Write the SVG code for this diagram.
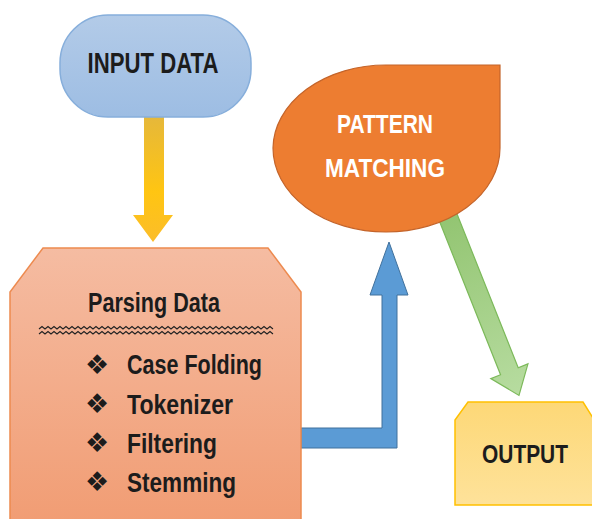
<svg xmlns="http://www.w3.org/2000/svg" width="592" height="519" viewBox="0 0 592 519">
<defs>
<linearGradient id="gBlue" x1="0" y1="0" x2="0" y2="1"><stop offset="0" stop-color="#b3cbe8"/><stop offset="1" stop-color="#9dbde3"/></linearGradient>
<linearGradient id="gYel" x1="0" y1="0" x2="0" y2="1"><stop offset="0" stop-color="#e6b83a"/><stop offset="0.6" stop-color="#ffc512"/><stop offset="1" stop-color="#fbbd2a"/></linearGradient>
<linearGradient id="gSal" x1="0" y1="0" x2="0" y2="1"><stop offset="0" stop-color="#f5bca2"/><stop offset="1" stop-color="#f19d74"/></linearGradient>
<linearGradient id="gGrn" x1="0" y1="0" x2="1" y2="0"><stop offset="0" stop-color="#93c572"/><stop offset="1" stop-color="#b7dca0"/></linearGradient>
<linearGradient id="gOut" x1="0" y1="0" x2="0" y2="1"><stop offset="0" stop-color="#fdd877"/><stop offset="1" stop-color="#fee29a"/></linearGradient>
<path id="wave" d="M0,0 l3,-2.5 l3,2.5 l3,-2.5 l3,2.5 l3,-2.5 l3,2.5 l3,-2.5 l3,2.5 l3,-2.5 l3,2.5 l3,-2.5 l3,2.5 l3,-2.5 l3,2.5 l3,-2.5 l3,2.5 l3,-2.5 l3,2.5 l3,-2.5 l3,2.5 l3,-2.5 l3,2.5 l3,-2.5 l3,2.5 l3,-2.5 l3,2.5 l3,-2.5 l3,2.5 l3,-2.5 l3,2.5 l3,-2.5 l3,2.5 l3,-2.5 l3,2.5 l3,-2.5 l3,2.5 l3,-2.5 l3,2.5 l3,-2.5 l3,2.5 l3,-2.5 l3,2.5 l3,-2.5 l3,2.5 l3,-2.5 l3,2.5 l3,-2.5 l3,2.5 l3,-2.5 l3,2.5 l3,-2.5 l3,2.5 l3,-2.5 l3,2.5 l3,-2.5 l3,2.5 l3,-2.5 l3,2.5 l3,-2.5 l3,2.5 l3,-2.5 l3,2.5 l3,-2.5 l3,2.5 l3,-2.5 l3,2.5 l3,-2.5 l3,2.5 l3,-2.5 l3,2.5 l3,-2.5 l3,2.5 l3,-2.5 l3,2.5 l3,-2.5 l3,2.5 l3,-2.5 l3,2.5" fill="none" stroke="#222" stroke-width="1.1"/>
</defs>
<style>
.t{font-family:"Liberation Sans",Arial,sans-serif;font-weight:bold;fill:#1c1c1c}
.w{font-family:"Liberation Sans",Arial,sans-serif;font-weight:bold;fill:#ffffff}
.b{font-family:"DejaVu Sans",sans-serif;fill:#1c1c1c}
</style>
<g id="connectors">
<path d="M144,117 L164,117 L164,215 L173,215 L153,242 L133,215 L144,215 Z" fill="url(#gYel)"/>
<path d="M301,428 L382,428 L382,295 L370,295 L389,242 L408,295 L397,295 L397,448 L301,448 Z" fill="#5b9bd5" stroke="#41719c" stroke-width="1"/>
<g transform="translate(448,217) rotate(68.3)">
<path d="M0,-9.5 L166,-9.5 L166,-20 L192,0 L166,20 L166,9.5 L0,9.5 Z" fill="url(#gGrn)" stroke="#7cb95a" stroke-width="1.2"/>
</g>
</g>
<g id="input">
<rect x="60" y="15" width="191" height="102" rx="48" ry="48" fill="url(#gBlue)" stroke="#86aedb" stroke-width="1.5"/>
<text class="t" x="153" y="73" font-size="30" text-anchor="middle" textLength="131" lengthAdjust="spacingAndGlyphs">INPUT DATA</text>
</g>
<g id="parsing">
<path d="M43,248 L268,248 L301,292 L301,520 L10,520 L10,292 Z" fill="url(#gSal)" stroke="#ed8a4f" stroke-width="1.5"/>
<text class="t" x="154" y="312" font-size="27" text-anchor="middle" textLength="132" lengthAdjust="spacingAndGlyphs">Parsing Data</text>
<use href="#wave" x="39" y="329"/>
<use href="#wave" x="39" y="334"/>
<text class="b" x="97" y="374" font-size="27" text-anchor="middle">❖</text>
<text class="b" x="97" y="413" font-size="27" text-anchor="middle">❖</text>
<text class="b" x="97" y="452" font-size="27" text-anchor="middle">❖</text>
<text class="b" x="97" y="491" font-size="27" text-anchor="middle">❖</text>
<text class="t" x="127" y="374" font-size="27" textLength="135" lengthAdjust="spacingAndGlyphs">Case Folding</text>
<text class="t" x="127" y="414" font-size="27" textLength="106" lengthAdjust="spacingAndGlyphs">Tokenizer</text>
<text class="t" x="127" y="453" font-size="27" textLength="90" lengthAdjust="spacingAndGlyphs">Filtering</text>
<text class="t" x="127" y="492" font-size="27" textLength="109" lengthAdjust="spacingAndGlyphs">Stemming</text>
</g>
<g id="pattern">
<path d="M386,65 L500,65 L500,148 A114,84 0 0 1 386,232 A113,84 0 0 1 273,148 A113,84 0 0 1 386,65 Z" fill="#ed7d31" stroke="#c4642a" stroke-width="1.2"/>
<text class="w" x="385" y="133" font-size="26" text-anchor="middle" textLength="96" lengthAdjust="spacingAndGlyphs">PATTERN</text>
<text class="w" x="385" y="177" font-size="26" text-anchor="middle" textLength="120" lengthAdjust="spacingAndGlyphs">MATCHING</text>
</g>
<g id="output">
<path d="M468,402 L583,402 L593,418 L593,505 L455,505 L455,420 Z" fill="url(#gOut)" stroke="#ffc000" stroke-width="1.5"/>
<text class="t" x="525" y="463" font-size="26" text-anchor="middle" textLength="86" lengthAdjust="spacingAndGlyphs">OUTPUT</text>
</g>
</svg>
